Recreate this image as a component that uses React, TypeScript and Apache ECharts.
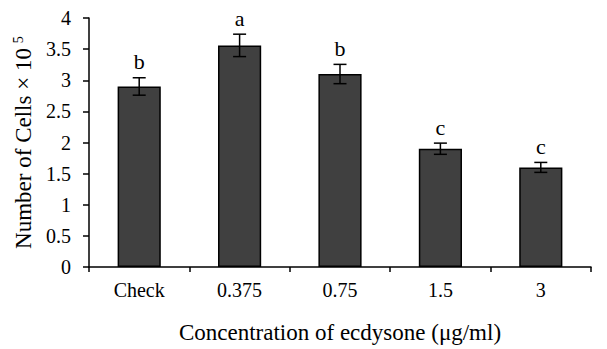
import React, { useEffect, useRef } from "react";
import * as echarts from "echarts";

const categories = ["Check", "0.375", "0.75", "1.5", "3"];
const means = [2.9, 3.56, 3.1, 1.9, 1.6];
const errors = [0.14, 0.18, 0.155, 0.09, 0.08];
const letters = ["b", "a", "b", "c", "c"];
const FONT = "Liberation Serif, Times New Roman, serif";

export default function App() {
  const ref = useRef<HTMLDivElement>(null);
  useEffect(() => {
    if (!ref.current) return;
    const chart = echarts.init(ref.current, undefined, { renderer: "svg" });
    const errData = categories.map((_, i) => [i, means[i], errors[i]]);
    chart.setOption({
      animation: false,
      backgroundColor: "#ffffff",
      grid: { left: 89, right: 16, top: 18, bottom: 77, containLabel: false },
      xAxis: {
        type: "category",
        data: categories,
        boundaryGap: true,
        axisLine: { lineStyle: { color: "#000", width: 1.5 } },
        axisTick: { show: true, length: 5, lineStyle: { color: "#000", width: 1.5 } },
        axisLabel: { color: "#000", fontFamily: FONT, fontSize: 20, margin: 13 },
        name: "Concentration of ecdysone (μg/ml)",
        nameLocation: "middle",
        nameGap: 54,
        nameTextStyle: { color: "#000", fontFamily: FONT, fontSize: 23 },
      },
      yAxis: {
        type: "value",
        min: 0,
        max: 4,
        interval: 0.5,
        splitLine: { show: false },
        axisLine: { show: true, lineStyle: { color: "#000", width: 1.5 } },
        axisTick: { show: true, length: 6, lineStyle: { color: "#000", width: 1.5 } },
        axisLabel: { color: "#000", fontFamily: FONT, fontSize: 20, margin: 18 },
        name: "Number of Cells × 10{sup|5}",
        nameLocation: "middle",
        nameRotate: 90,
        nameGap: 49,
        nameTextStyle: {
          color: "#000",
          fontFamily: FONT,
          fontSize: 23,
          rich: {
            sup: { fontFamily: FONT, fontSize: 14, color: "#000", verticalAlign: "top", padding: [0, 0, 10, 5] },
          },
        },
      },
      series: [
        {
          type: "bar",
          data: means,
          barWidth: "43%",
          itemStyle: { color: "#404040", borderColor: "#000", borderWidth: 1.5 },
        },
        {
          type: "custom",
          data: errData,
          encode: { x: 0, y: 1 },
          clip: false,
          z: 10,
          renderItem: (params: any, api: any) => {
            const i = api.value(0);
            const m = api.value(1);
            const e = api.value(2);
            const top = api.coord([i, m + e]);
            const bot = api.coord([i, m - e]);
            const x = top[0];
            const hw = 6.5;
            const st = { stroke: "#000", lineWidth: 1.5 };
            return {
              type: "group",
              children: [
                { type: "line", shape: { x1: x, y1: top[1], x2: x, y2: bot[1] }, style: st },
                { type: "line", shape: { x1: x - hw, y1: top[1], x2: x + hw, y2: top[1] }, style: st },
                { type: "line", shape: { x1: x - hw, y1: bot[1], x2: x + hw, y2: bot[1] }, style: st },
                {
                  type: "text",
                  x: x,
                  y: top[1] - 5,
                  style: {
                    text: letters[params.dataIndex],
                    fill: "#000",
                    font: `22px ${FONT}`,
                    align: "center",
                    verticalAlign: "bottom",
                  },
                },
              ],
            };
          },
        },
      ],
    });
    return () => chart.dispose();
  }, []);
  return <div ref={ref} style={{ position: "fixed", left: 0, top: 0, width: 607, height: 349 }} />;
}
